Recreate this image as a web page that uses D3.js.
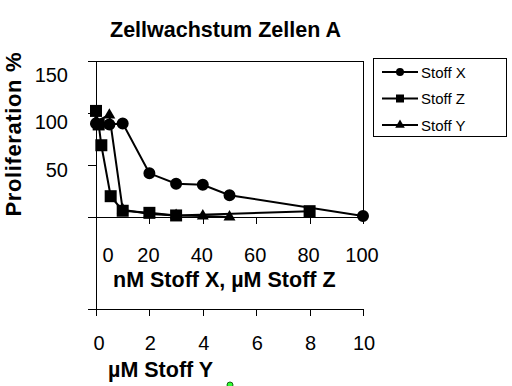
<!DOCTYPE html>
<html>
<head>
<meta charset="utf-8">
<script src="https://cdn.jsdelivr.net/npm/d3@7"></script>
<style>
	body { margin: 0; background: #fff; }
	svg { display: block; font-family: "Liberation Sans", Arial, sans-serif; }
	.ax path, .ax line { stroke: #000; shape-rendering: crispEdges; }
</style>
</head>
<body>
<svg width="512" height="386"></svg>
<script>
// Zellwachstum Zellen A
var concX = [0, 5, 10, 20, 30, 40, 50, 100]		// nM Stoff X
var stoffX = [90, 89, 90, 42, 32, 31, 21, 1]
var concZ = [0, 1, 2, 5.5, 10, 20, 30, 80]		// µM Stoff Z
var stoffZ = [102, 89, 69, 20, 6, 4, 1.5, 5.6]
var concY = [0, 0.5, 1, 2, 3, 4, 5]				// µM Stoff Y
var stoffY = [92, 98, 7, 3, 1.5, 1, 0]

var yTicks = [0, 50, 100, 150]
var yLabels = [50, 100, 150]
var topTicks = [0, 20, 40, 60, 80, 100]
var bottomTicks = [0, 2, 4, 6, 8, 10]
var legendNames = ['Stoff X', 'Stoff Z', 'Stoff Y']

var svg = d3.select("svg")

var y = d3.scaleLinear().domain([0, 150]).range([217, 61])
var xTop = d3.scaleLinear().domain([0, 100]).range([96, 363])
var xBot = d3.scaleLinear().domain([0, 10]).range([96, 363])
// labels on the y axis sit a bit off their ticks in the original
var yLab = d3.scaleLinear().domain([50, 150]).range([176.7, 81.7])

// frame: top + right border, left axis reaching down to the second x axis
svg.append("path")
	.attr("d", "M96.5,61.5H363.5V217.5")
	.attr("fill", "none").attr("stroke", "#000")
	.style("shape-rendering", "crispEdges")
svg.append("line")
	.attr("x1", 96.5).attr("x2", 96.5).attr("y1", 61).attr("y2", 310)
	.attr("stroke", "#000").style("shape-rendering", "crispEdges")

svg.append("g").attr("class", "ax")
	.attr("transform", "translate(96,0)")
	.call(d3.axisLeft(y).tickValues(yTicks).tickSize(8).tickSizeOuter(0).tickFormat(""))

svg.append("g").attr("class", "ax")
	.attr("transform", "translate(0,217)")
	.call(d3.axisBottom(xTop).tickValues(topTicks).tickSize(7).tickSizeOuter(0).tickFormat(""))

svg.append("g").attr("class", "ax")
	.attr("transform", "translate(0,309)")
	.call(d3.axisBottom(xBot).tickValues(bottomTicks).tickSize(7).tickSizeOuter(0).tickFormat(""))
svg.append("line")
	.attr("x1", 88).attr("x2", 97).attr("y1", 309.5).attr("y2", 309.5)
	.attr("stroke", "#000").style("shape-rendering", "crispEdges")

// tick labels
svg.append("g").selectAll("text")
	.data(yLabels)
	.enter().append("text")
		.attr("x", 68)
		.attr("y", function(d) { return yLab(d) })
		.attr("text-anchor", "end")
		.attr("font-size", 20)
		.text(function(d) { return d })

svg.append("g").selectAll("text")
	.data(topTicks)
	.enter().append("text")
		.attr("x", function(d) { return d === 0 ? xTop(d) + 12 : xTop(d) - 1 })
		.attr("y", 262)
		.attr("text-anchor", "middle")
		.attr("font-size", 20)
		.text(function(d) { return d })

svg.append("g").selectAll("text")
	.data(bottomTicks)
	.enter().append("text")
		.attr("x", function(d) { return d === 0 ? xBot(d) + 3 : xBot(d) + 1 })
		.attr("y", 350)
		.attr("text-anchor", "middle")
		.attr("font-size", 20)
		.text(function(d) { return d })

// titles
svg.append("text")
	.attr("x", 225.5).attr("y", 37)
	.attr("text-anchor", "middle")
	.attr("font-size", 21.5).attr("font-weight", "bold")
	.text("Zellwachstum Zellen A")

svg.append("text")
	.attr("transform", "translate(21,134.5) rotate(-90)")
	.attr("text-anchor", "middle")
	.attr("font-size", 22).attr("font-weight", "bold")
	.attr("textLength", 164).attr("lengthAdjust", "spacing")
	.text("Proliferation %")

svg.append("text")
	.attr("x", 113).attr("y", 287)
	.attr("font-size", 21.5).attr("font-weight", "bold")
	.text("nM Stoff X, µM Stoff Z")

svg.append("text")
	.attr("x", 108).attr("y", 376.5)
	.attr("font-size", 21.5).attr("font-weight", "bold")
	.text("µM Stoff Y")

// series
var series = [
	{name: 'Stoff X', xs: concX, vs: stoffX, sx: xTop, sym: d3.symbolCircle, size: 113},
	{name: 'Stoff Y', xs: concY, vs: stoffY, sx: xBot, sym: d3.symbolTriangle, size: 62},
	{name: 'Stoff Z', xs: concZ, vs: stoffZ, sx: xTop, sym: d3.symbolSquare, size: 144}
]

var line = d3.line()

series.forEach(function(s) {
	var pts = s.xs.map(function(c, i) { return [s.sx(c), y(s.vs[i])] })
	var g = svg.append("g")
	g.append("path")
		.attr("d", line(pts))
		.attr("fill", "none")
		.attr("stroke", "#000")
		.attr("stroke-width", 2)
	g.selectAll("path.m")
		.data(pts)
		.enter().append("path")
			.attr("class", "m")
			.attr("transform", function(p) { return "translate(" + p[0] + "," + p[1] + ")" })
			.attr("d", d3.symbol().type(s.sym).size(s.size))
			.attr("fill", "#000")
})

// legend
var legSym = {'Stoff X': [d3.symbolCircle, 50], 'Stoff Z': [d3.symbolSquare, 64], 'Stoff Y': [d3.symbolTriangle, 40]}
svg.append("rect")
	.attr("x", 373.5).attr("y", 58.5).attr("width", 133).attr("height", 78)
	.attr("fill", "none").attr("stroke", "#000")
	.style("shape-rendering", "crispEdges")

var leg = svg.append("g").selectAll("g")
	.data(legendNames)
	.enter().append("g")
		.attr("transform", function(d, i) { return "translate(0," + (72 + i * 26.5) + ")" })
leg.append("line")
	.attr("x1", 382).attr("x2", 418)
	.attr("stroke", "#000").attr("stroke-width", 2)
leg.append("path")
	.attr("transform", "translate(400,0)")
	.attr("d", function(d) { return d3.symbol().type(legSym[d][0]).size(legSym[d][1])() })
	.attr("fill", "#000")
leg.append("text")
	.attr("x", 421).attr("y", 5.5)
	.attr("font-size", 15)
	.text(function(d) { return d })

// stray selection handle at the bottom edge of the original
svg.append("circle")
	.attr("cx", 230).attr("cy", 385).attr("r", 3)
	.attr("fill", "#33ff33").attr("stroke", "#116611")
</script>
</body>
</html>
